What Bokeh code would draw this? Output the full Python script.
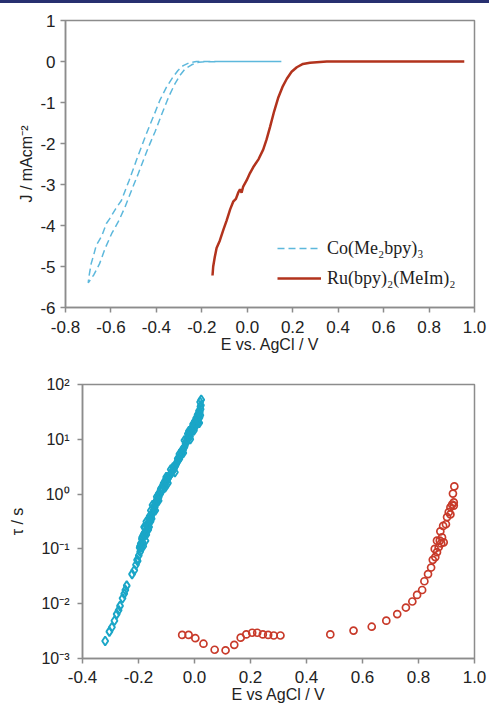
import numpy as np
from bokeh.plotting import figure
from bokeh.models import (FixedTicker, CustomJSTickFormatter,
                          Range1d, Legend, LegendItem, Div)
from bokeh.embed import file_html
from bokeh.resources import INLINE

# ---------------- data: top panel (J vs E) ----------------
co_E = [0.15, 0.00, -0.10, -0.200, -0.215, -0.245, -0.274, -0.295, -0.318, -0.345,
        -0.376, -0.405, -0.435, -0.458, -0.480, -0.510, -0.538, -0.565, -0.597, -0.625,
        -0.650, -0.675, -0.700, -0.697, -0.687, -0.675, -0.665, -0.640, -0.620, -0.606,
        -0.580, -0.554, -0.520, -0.488, -0.444, -0.410, -0.385, -0.355, -0.327, -0.305,
        -0.282, -0.255, -0.224, -0.10, 0.15]
co_J = [0.0, 0.0, 0.0, -0.01, -0.02, -0.08, -0.18, -0.33, -0.54, -0.85,
        -1.28, -1.70, -2.09, -2.42, -2.74, -3.15, -3.55, -3.88, -4.20, -4.55,
        -4.93, -5.20, -5.40, -5.25, -4.93, -4.70, -4.49, -4.25, -3.95, -3.84,
        -3.60, -3.39, -2.90, -2.41, -1.76, -1.30, -0.95, -0.62, -0.38, -0.22,
        -0.10, -0.03, 0.0, 0.0, 0.0]

ru_E = [-0.153, -0.150, -0.143, -0.135, -0.121, -0.105, -0.091, -0.075, -0.062, -0.050,
        -0.040, -0.032, -0.025, -0.018, -0.003, 0.012, 0.026, 0.050, 0.070, 0.085,
        0.100, 0.118, 0.137, 0.155, 0.174, 0.195, 0.218, 0.245, 0.276, 0.350,
        0.600, 0.955]
ru_J = [-5.22, -5.00, -4.77, -4.55, -4.37, -4.10, -3.88, -3.60, -3.42, -3.35,
        -3.20, -3.12, -3.20, -3.05, -2.90, -2.72, -2.58, -2.38, -2.15, -1.90,
        -1.60, -1.22, -0.87, -0.62, -0.42, -0.25, -0.14, -0.06, -0.03, 0.0,
        0.0, 0.0]

top_xticks = [-0.8, -0.6, -0.4, -0.2, 0.0, 0.2, 0.4, 0.6, 0.8, 1.0]
top_yticks = [1, 0, -1, -2, -3, -4, -5, -6]

# ---------------- data: bottom panel (tau vs E) ----------------
co_tau_E = [-0.319, -0.304, -0.295, -0.286, -0.278, -0.271, -0.266, -0.257, -0.251, -0.247,
            -0.242, -0.223, -0.215, -0.209, -0.203, -0.199, -0.194, -0.190, -0.185, -0.187,
            -0.179, -0.173, -0.169, -0.163, -0.159, -0.155, -0.151, -0.147, -0.142, -0.137,
            -0.132, -0.128, -0.123, -0.118, -0.113, -0.107, -0.101, -0.095, -0.089, -0.083,
            -0.077, -0.071, -0.065, -0.060, -0.054, -0.048, -0.042, -0.038, -0.032, -0.027,
            -0.022, -0.018, -0.013, -0.008, -0.003, 0.001, 0.006, 0.011, 0.016, 0.021,
            0.024, 0.018, 0.012, -0.002, -0.024, -0.036, -0.054, -0.077, -0.101, -0.125,
            -0.150, -0.160, -0.170, -0.180, -0.165, -0.175, -0.195, -0.205, -0.180, 0.020,
            0.022, 0.018, 0.010, 0.004, -0.005, -0.010, -0.020, -0.030, -0.045, -0.060,
            -0.085, -0.110, -0.120, -0.135, -0.145,
            -0.196, -0.192, -0.188, -0.183, -0.178, -0.172, -0.168, -0.162, -0.157, -0.153,
            -0.149, -0.144, -0.140, -0.134, -0.130, -0.126, -0.121, -0.116, -0.111, -0.104,
            -0.098, -0.092, -0.086, -0.080, -0.074, -0.068, -0.063, -0.057, -0.051, -0.046,
            -0.040, -0.035, -0.029, -0.025, -0.016, -0.012, -0.006, -0.001, 0.004, 0.008,
            0.013, 0.015, 0.019, 0.023, 0.021, 0.017, 0.007, -0.015, -0.040, -0.070,
            -0.095, -0.105, -0.128, -0.140, -0.156, -0.162, -0.172, -0.177, -0.183, -0.188]
co_log_tau = [-2.68, -2.51, -2.43, -2.31, -2.19, -2.12, -2.04, -1.90, -1.82, -1.75,
              -1.67, -1.46, -1.39, -1.29, -1.22, -1.12, -1.05, -0.97, -0.88, -0.79,
              -0.76, -0.68, -0.61, -0.53, -0.47, -0.42, -0.36, -0.30, -0.24, -0.18,
              -0.12, -0.06, 0.00, 0.05, 0.09, 0.15, 0.22, 0.28, 0.34, 0.38,
              0.43, 0.49, 0.55, 0.61, 0.64, 0.72, 0.79, 0.84, 0.92, 0.98,
              1.04, 1.10, 1.16, 1.22, 1.27, 1.33, 1.39, 1.45, 1.52, 1.60,
              1.72, 1.40, 1.31, 1.16, 1.10, 0.98, 0.73, 0.49, 0.31, 0.03,
              -0.20, -0.40, -0.55, -0.72, -0.65, -0.85, -0.95, -1.20, -0.60, 1.68,
              1.55, 1.47, 1.35, 1.25, 1.28, 1.20, 1.15, 0.95, 0.80, 0.65,
              0.45, 0.20, 0.10, -0.05, -0.22,
              -0.98, -0.90, -0.92, -0.75, -0.70, -0.74, -0.58, -0.60, -0.50, -0.45,
              -0.33, -0.28, -0.15, -0.10, -0.02, 0.02, 0.08, 0.12, 0.18, 0.25,
              0.24, 0.32, 0.36, 0.41, 0.46, 0.52, 0.58, 0.63, 0.68, 0.74,
              0.82, 0.87, 0.94, 1.00, 1.05, 1.12, 1.18, 1.24, 1.30, 1.36,
              1.42, 1.38, 1.50, 1.62, 1.44, 1.30, 1.26, 1.00, 0.75, 0.40,
              0.20, 0.12, -0.12, -0.30, -0.30, -0.46, -0.50, -0.62, -0.95, -0.82]

ru_tau_E = [-0.044, -0.021, 0.003, 0.032, 0.072, 0.111, 0.142, 0.165, 0.185, 0.206,
            0.224, 0.244, 0.263, 0.283, 0.307, 0.485, 0.568, 0.633, 0.685, 0.724,
            0.755, 0.778, 0.795, 0.813, 0.821, 0.834, 0.845, 0.851, 0.860, 0.866,
            0.858, 0.872, 0.881, 0.876, 0.884, 0.866, 0.890, 0.878, 0.888, 0.898,
            0.902, 0.908, 0.914, 0.920, 0.926, 0.923, 0.928, 0.914, 0.926]
ru_log_tau = [-2.57, -2.57, -2.63, -2.73, -2.84, -2.85, -2.75, -2.62, -2.56, -2.53,
              -2.53, -2.56, -2.57, -2.58, -2.58, -2.56, -2.49, -2.42, -2.31, -2.19,
              -2.07, -1.96, -1.84, -1.75, -1.59, -1.46, -1.34, -1.20, -1.15, -1.06,
              -1.00, -0.97, -0.90, -0.85, -0.79, -0.85, -0.88, -0.68, -0.58, -0.55,
              -0.42, -0.33, -0.24, -0.19, -0.15, 0.01, 0.14, -0.37, -0.21]

bot_xticks = [-0.4, -0.2, 0.0, 0.2, 0.4, 0.6, 0.8, 1.0]
bot_yticks = [1e-3, 1e-2, 1e-1, 1e0, 1e1, 1e2]

# ---------------- styling ----------------
AX = "#8c8c8c"
TXT = "#222222"
FONT = "Liberation Sans"
CO_LINE = "#5db8dc"
RU_LINE = "#b2331d"
CO_PT = "#1aa6c7"
RU_PT = "#c83a2a"

FMT1 = CustomJSTickFormatter(code="return tick.toFixed(1);")
FMT0 = CustomJSTickFormatter(code="return tick.toFixed(0);")


def style(p):
    p.grid.visible = False
    p.outline_line_color = AX
    p.outline_line_width = 1.5
    p.background_fill_color = "white"
    p.border_fill_color = "white"
    for ax in (p.xaxis[0], p.yaxis[0]):
        ax.axis_line_color = AX
        ax.axis_line_width = 1.5
        ax.major_tick_line_color = AX
        ax.major_tick_line_width = 1.5
        ax.major_tick_out = 5
        ax.major_tick_in = 0
        ax.minor_tick_line_color = None
        ax.major_label_text_font = FONT
        ax.major_label_text_font_size = "17px"
        ax.major_label_text_color = TXT
        ax.axis_label_text_font = FONT
        ax.axis_label_text_font_size = "16px"
        ax.axis_label_text_font_style = "normal"
        ax.axis_label_text_color = TXT


# thin navy rule at the very top of the page
top_rule = Div(text="", width=489, height=3, margin=0,
               styles={"background-color": "#283070"})

# ---------------- top figure ----------------
p1 = figure(width=489, height=357, output_backend="svg", toolbar_location=None,
            x_range=Range1d(-0.8, 1.0), y_range=Range1d(-6, 1),
            min_border_left=65, min_border_right=15, min_border_top=17,
            min_border_bottom=53)
style(p1)
r_co = p1.line(co_E, co_J, line_color=CO_LINE, line_width=1.5, line_dash="7 4")
r_ru = p1.line(ru_E, ru_J, line_color=RU_LINE, line_width=2.5)
p1.xaxis.ticker = FixedTicker(ticks=top_xticks)
p1.xaxis.formatter = FMT1
p1.yaxis.ticker = FixedTicker(ticks=top_yticks)
p1.yaxis.formatter = FMT0
p1.xaxis.major_label_standoff = 8
p1.yaxis.major_label_standoff = 5
p1.xaxis.axis_label = "E vs. AgCl / V"
p1.yaxis.axis_label = "J / mAcm⁻²"
p1.xaxis.axis_label_standoff = 0
p1.yaxis.axis_label_standoff = 2

legend = Legend(items=[LegendItem(label="Co(Me₂bpy)₃", renderers=[r_co]),
                       LegendItem(label="Ru(bpy)₂(MeIm)₂", renderers=[r_ru])],
                location=(212, 18), padding=0, margin=0, spacing=8,
                label_height=22, glyph_height=22, glyph_width=44, label_standoff=6,
                border_line_color=None, background_fill_alpha=0,
                label_text_font="Liberation Serif", label_text_font_size="18px",
                label_text_color=TXT)
p1.add_layout(legend)

# ---------------- bottom figure ----------------
p2 = figure(width=489, height=347, output_backend="svg", toolbar_location=None,
            x_range=Range1d(-0.4, 1.0), y_range=Range1d(1e-3, 1e2), y_axis_type="log",
            min_border_left=82, min_border_right=15, min_border_top=24,
            min_border_bottom=49)
style(p2)
p2.yaxis.major_label_text_font_size = "16px"
p2.scatter(co_tau_E, 10 ** np.array(co_log_tau), marker="diamond", size=9,
           fill_color=None, line_color=CO_PT, line_width=1.9)
p2.scatter(ru_tau_E, 10 ** np.array(ru_log_tau), marker="circle", size=7,
           fill_color=None, line_color=RU_PT, line_width=1.7)
p2.xaxis.ticker = FixedTicker(ticks=bot_xticks)
p2.xaxis.formatter = FMT1
p2.yaxis.ticker = FixedTicker(ticks=bot_yticks)
p2.yaxis.formatter = CustomJSTickFormatter(code="""
const sup = {'-3':'⁻³','-2':'⁻²','-1':'⁻¹','0':'⁰','1':'¹','2':'²'};
const e = Math.round(Math.log10(tick));
return '10' + sup[String(e)];
""")
p2.xaxis.major_label_standoff = 7
p2.yaxis.major_label_standoff = 8
p2.xaxis.axis_label = "E vs AgCl / V"
p2.yaxis.axis_label = "τ / s"
p2.xaxis.axis_label_standoff = 0
p2.yaxis.axis_label_standoff = 12

open("out.html", "w").write(file_html([top_rule, p1, p2], INLINE))
